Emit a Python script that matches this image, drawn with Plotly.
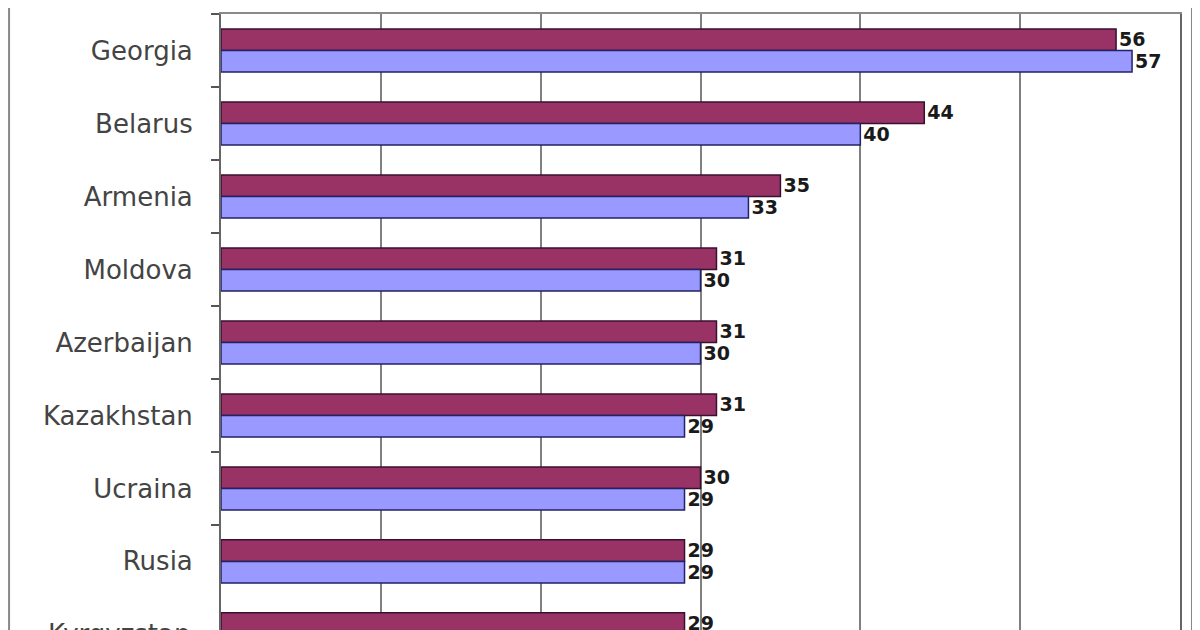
import plotly.graph_objects as go

countries = ["Georgia", "Belarus", "Armenia", "Moldova", "Azerbaijan",
             "Kazakhstan", "Ucraina", "Rusia", "Kyrgyzstan"]
series_a = [56, 44, 35, 31, 31, 31, 30, 29, 29]   # maroon bars
series_b = [57, 40, 33, 30, 30, 29, 29, 29, 29]   # blue bars

value_font = dict(family="DejaVu Sans", size=23, color="#1a1a1a", weight="bold")
label_font = dict(family="DejaVu Sans", size=26, color="#444444")

Y_RANGE = [7.94, -0.5]

fig = go.Figure()

fig.add_trace(go.Bar(
    y=countries, x=series_a, orientation="h",
    marker=dict(color="#993366", line=dict(color="#3a1030", width=1.5)),
    text=series_a, textposition="outside", cliponaxis=False,
    textfont=value_font, name="A", showlegend=False,
))
fig.add_trace(go.Bar(
    y=countries, x=series_b, orientation="h",
    marker=dict(color="#9999ff", line=dict(color="#222266", width=1.5)),
    text=series_b, textposition="outside", cliponaxis=False,
    textfont=value_font, name="B", showlegend=False,
))

# last category sits just below the visible edge, so its tick label is hidden;
# draw it as an annotation placed where that category centre falls
last_idx = len(countries) - 1
fig.add_annotation(
    x=0, xref="x", xanchor="right", xshift=-29,
    y=(Y_RANGE[0] - last_idx) / (Y_RANGE[0] - Y_RANGE[1]), yref="paper",
    yanchor="middle",
    text=countries[-1], showarrow=False, font=label_font,
)

# outer chart frame (left and right edges)
for xp in (-0.221, 1.0125):
    fig.add_shape(type="line", xref="paper", yref="paper",
                  x0=xp, x1=xp, y0=0, y1=1.1,
                  line=dict(color="#888888", width=2))

# page body adds an 8px offset, so the figure is 8px smaller than the window
fig.update_layout(
    width=1192, height=622,
    margin=dict(l=213, r=20, t=6, b=0, autoexpand=False),
    barmode="group", bargap=0.41, bargroupgap=0,
    plot_bgcolor="white", paper_bgcolor="white",
    font=dict(family="DejaVu Sans"),
)
fig.update_xaxes(
    range=[0, 60], dtick=10, showgrid=True, gridcolor="#808080", gridwidth=2,
    showline=True, linecolor="#8a8a8a", linewidth=2, mirror=True,
    showticklabels=False, zeroline=False, automargin=False,
)
fig.update_yaxes(
    type="category", range=Y_RANGE,
    showline=True, linecolor="#666666", linewidth=2, mirror=True,
    ticks="outside", ticklen=8, tickwidth=2, tickcolor="#555555",
    tickson="boundaries", ticklabelstandoff=21,
    tickfont=label_font, showgrid=False, automargin=False,
)

fig.write_html("out.html")
